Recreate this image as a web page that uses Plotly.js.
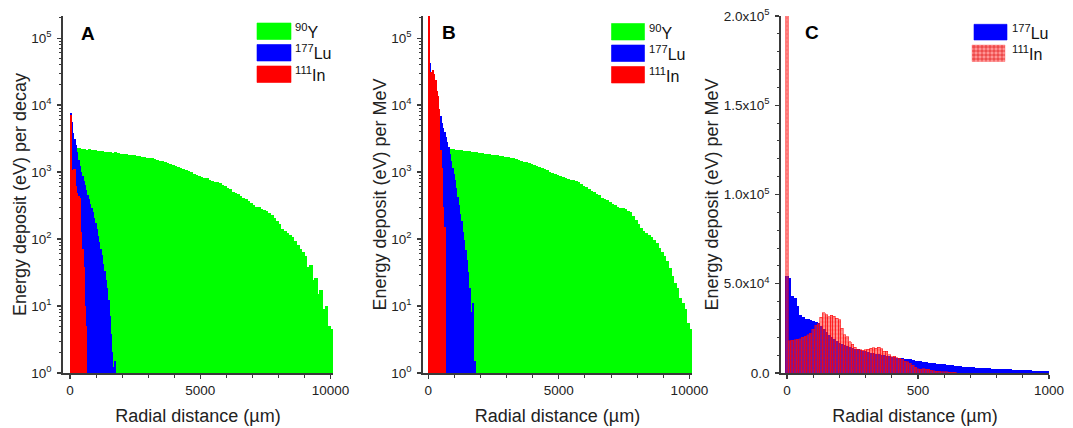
<!DOCTYPE html>
<html><head><meta charset="utf-8">
<script src="https://cdn.plot.ly/plotly-3.0.1.min.js"></script>
<style>html,body{margin:0;padding:0;background:#fff}#chart{width:1073px;height:428px}
#chart .bars path{shape-rendering:crispEdges}</style>
</head><body><div id="chart"></div>
<script>
// ---------- DATA ----------
// Panels A/B: 90Y in 100-µm bins (centres 50..10050); 177Lu and 111In in 50-µm bins (centres 25, 75, ...)
const greenA = [2200,2250,2150,2230,2180,2140,2120,2160,2090,2080,
 2050,2010,2030,1980,1950,1970,1900,1930,1870,1850,
 1840,1800,1790,1750,1740,1720,1700,1650,1640,1620,
 1600,1570,1520,1500,1450,1420,1380,1340,1300,1260,
 1220,1170,1130,1090,1050,1010,970,930,890,860,
 840,810,790,760,730,700,690,670,640,600,
 575,540,500,485,460,430,400,385,360,340,
 320,300,295,280,270,255,240,225,200,185,
 165,140,128,120,112,105,92,80,70,62,
 55,38,40,24,26,15,17,9,10,5,4.5];
const blueA = [7600,5500,3800,3100,2500,1950,1500,1200,1000,850,
 730,620,530,450,390,330,290,250,205,170,
 138,110,88,70,56,42,33,24,18,12,
 7,3.8,2,1.2,1.5];
const redA = [7000,750,1050,1100,600,480,430,400,125,70,38,10,5];

const greenB = [2300,2280,2250,2300,2240,2200,2180,2210,2150,2160,
 2120,2080,2100,2050,2020,2000,1980,1990,1940,1900,
 1880,1850,1830,1800,1790,1760,1740,1700,1690,1670,
 1640,1610,1570,1530,1490,1450,1410,1370,1330,1290,
 1250,1210,1170,1120,1080,1040,1000,960,920,880,
 850,830,800,780,760,740,720,690,650,610,
 580,550,520,500,470,440,410,395,370,350,
 330,315,300,290,285,275,260,245,215,190,
 165,145,130,122,112,105,95,85,72,63,
 54,46,36,28,22,18,13,11,9,5.5,4.4];
const blueB = [45000,42000,25000,19000,15500,12500,10500,9000,7800,6700,
 5400,4500,3900,3300,2800,2300,1800,1450,1150,930,
 740,560,420,320,230,180,125,95,68,48,
 32,18,8,3.5,11,1.5];
const redB = [250000,22000,31000,33000,29000,23000,16000,13500,8500,2100,1150,300,150];

// Panel C: 10-µm bins, centres 0, 10, 20, ...
const blueC = [54000,53000,43000,41500,37000,32000,31000,30200,30000,29300,
 28600,28200,27500,26300,24500,22500,21000,19800,18500,17500,
 16700,16000,15400,14800,14300,13800,13300,12900,12500,12200,
 11900,11500,11100,10800,10500,10200,9900,9600,9400,9100,
 8800,8600,8400,8200,8000,7800,7500,7300,7000,6700,
 6500,6200,6000,5800,5600,5400,5200,5000,4800,4650,
 4500,4300,4150,4000,3800,3650,3500,3350,3200,3100,
 3000,2900,2800,2700,2600,2500,2400,2300,2200,2100,
 2000,1950,1900,1800,1750,1700,1600,1500,1450,1400,
 1300,1250,1200,1150,1100,1050,1000,950,900,800,750];
const redC = [210000,18000,18300,18500,18900,19300,19900,20600,21400,22400,
 24500,26800,27600,31200,33800,32600,31500,32300,31800,30600,
 29700,25000,21300,20300,17500,16200,14400,13300,12900,12800,
 13100,13400,14000,14200,14000,14300,13600,12300,12100,10100,
 9000,9500,8500,8200,7800,6500,6300,5500,4400,3300,
 2400,2200,2300,2000,2100,1500,1200,1000,900,800,
 700,600,500,400,300];

const logTickVals = [1,10,100,1000,10000,100000];
const logTickText = ['10<sup>0</sup>','10<sup>1</sup>','10<sup>2</sup>','10<sup>3</sup>','10<sup>4</sup>','10<sup>5</sup>'];
const linTickValsC = [0,50000,100000,150000,200000];
const linTickTextC = ['0.0','5.0x10<sup>4</sup>','1.0x10<sup>5</sup>','1.5x10<sup>5</sup>','2.0x10<sup>5</sup>'];
const xTickValsAB = [0,5000,10000];
const xTickTextAB = ['0','5000','10000'];
const xTickValsC = [0,500,1000];
const xTickTextC = ['0','500','1000'];
const labelsAB = ['<sup>90</sup>Y','<sup>177</sup>Lu','<sup>111</sup>In'];
const labelsC = ['<sup>177</sup>Lu','<sup>111</sup>In'];

// ---------- HELPERS ----------
const centres = (arr, start, w) => arr.map((_, i) => start + w * i);
const GREEN = 'rgb(0,255,0)', BLUE = 'rgb(0,0,255)', RED = 'rgb(255,0,0)';
const F = 'Arial, "Liberation Sans", sans-serif';
const W = 1073, H = 428;
const px = v => v / W, py = v => 1 - v / H;

function solidBar(y, start, w, color, xa, ya) {
  return {type:'bar', x: centres(y, start, w), y: y, width: w, xaxis: xa, yaxis: ya,
    marker:{color: color, line:{width:1, color: color}}, hoverinfo:'skip'};
}

const traces = [
  solidBar(greenA, 50, 100, GREEN, 'x', 'y'),
  solidBar(blueA, 25, 50, BLUE, 'x', 'y'),
  solidBar(redA, 25, 50, RED, 'x', 'y'),
  solidBar(greenB, 50, 100, GREEN, 'x2', 'y2'),
  solidBar(blueB, 25, 50, BLUE, 'x2', 'y2'),
  solidBar(redB, 25, 50, RED, 'x2', 'y2'),
  solidBar(blueC, 0, 10, BLUE, 'x3', 'y3'),
  {type:'bar', x: centres(redC, 0, 10), y: redC, width: 10, xaxis:'x3', yaxis:'y3', hoverinfo:'skip',
    marker:{color:'rgba(255,40,40,0.5)', line:{width:0.6, color:'rgba(255,0,0,0.85)'},
      pattern:{shape:'+', fgcolor:'rgba(255,0,0,0.9)', size:4, solidity:0.25, fillmode:'overlay'}}}
];

const minorLog = [];
for (let d = 0; d < 6; d++) for (let m = 2; m <= 9; m++) minorLog.push(m * Math.pow(10, d));

const axisBase = () => ({showline:true, linecolor:'#3a3a3a', linewidth:1.8, mirror:false,
  ticks:'outside', ticklen:4, tickwidth:1.2, tickcolor:'#3a3a3a', showgrid:false, zeroline:false,
  tickfont:{family:F, size:13.5, color:'#222'}, fixedrange:true});

function xAxis(domain, range, tickvals, ticktext, minorDtick, anchor) {
  return Object.assign(axisBase(), {domain: domain, range: range, anchor: anchor,
    tickmode:'array', tickvals: tickvals, ticktext: ticktext,
    minor:{ticks:'outside', ticklen:3, tickwidth:1, tickcolor:'#3a3a3a', dtick: minorDtick, tick0: 0},
    title:{text:'Radial distance (\u00b5m)', font:{family:F, size:18, color:'#222'}, standoff: 12}});
}
function yLog(domain, anchor, title) {
  return Object.assign(axisBase(), {domain: domain, anchor: anchor, type:'log', range:[0, 5.33],
    tickmode:'array', tickvals: logTickVals, ticktext: logTickText, ticklabelstandoff: 3,
    minor:{ticks:'outside', ticklen:2.5, tickwidth:1, tickcolor:'#3a3a3a', tickmode:'array', tickvals: minorLog},
    title:{text: title, font:{family:F, size:18, color:'#222'}, standoff: 0}});
}

const yDom = [py(373), py(16)];

// legend swatches & labels
const shapes = [], annotations = [];
function swatch(x0, y0, x1, y1, color) {
  shapes.push({type:'rect', xref:'paper', yref:'paper', x0: px(x0), x1: px(x1), y0: py(y1), y1: py(y0),
    fillcolor: color, line:{width:0.6, color: color}});
}
function label(x, yc, text) {
  annotations.push({xref:'paper', yref:'paper', x: px(x), y: py(yc), xanchor:'left', yanchor:'middle',
    text: text, showarrow:false, font:{family:F, size:16, color:'#111'}});
}
function letter(x, y, t) {
  annotations.push({xref:'paper', yref:'paper', x: px(x), y: py(y), xanchor:'left', yanchor:'middle',
    text:'<b>' + t + '</b>', showarrow:false, font:{family:F, size:19, color:'#000'}});
}
// Panel A legend
[GREEN, BLUE, RED].forEach((c, i) => { const y0 = 23 + i * 21.5; swatch(257, y0, 291, y0 + 16.5, c); label(293, y0 + 8, labelsAB[i]); });
// Panel B legend
[GREEN, BLUE, RED].forEach((c, i) => { const y0 = 23.5 + i * 21.5; swatch(611.5, y0, 644.5, y0 + 16.5, c); label(646.5, y0 + 8, labelsAB[i]); });
// Panel C legend
swatch(974, 24.3, 1007, 40, BLUE); label(1010, 32, labelsC[0]);
swatch(972, 45, 1005, 61.5, 'rgba(255,60,60,0.55)');
for (let xx = 974; xx < 1005; xx += 4) shapes.push({type:'line', xref:'paper', yref:'paper', x0:px(xx), x1:px(xx), y0:py(45), y1:py(61.5), line:{width:0.7, color:'rgba(220,0,0,0.8)'}});
for (let yy = 47; yy < 61.5; yy += 4) shapes.push({type:'line', xref:'paper', yref:'paper', x0:px(972), x1:px(1005), y0:py(yy), y1:py(yy), line:{width:0.7, color:'rgba(220,0,0,0.8)'}});
label(1010, 53, labelsC[1]);

letter(79, 33, 'A'); letter(440, 32.5, 'B'); letter(803, 32.5, 'C');

const layout = {
  width: W, height: H, margin:{l:0, r:0, t:0, b:0}, paper_bgcolor:'#fff', plot_bgcolor:'#fff',
  barmode:'overlay', bargap:0, showlegend:false, font:{family:F},
  xaxis: xAxis([px(63), px(333)], [-270, 10100], xTickValsAB, xTickTextAB, 1000, 'y'),
  yaxis: yLog(yDom, 'x', 'Energy deposit (eV) per decay'),
  xaxis2: xAxis([px(423), px(692)], [-200, 10100], xTickValsAB, xTickTextAB, 1000, 'y2'),
  yaxis2: yLog(yDom, 'x2', 'Energy deposit (eV) per MeV'),
  xaxis3: xAxis([px(781), px(1049)], [-23, 1000], xTickValsC, xTickTextC, 100, 'y3'),
  yaxis3: Object.assign(axisBase(), {domain: yDom, anchor:'x3', range:[0, 200000],
    tickmode:'array', tickvals: linTickValsC, ticktext: linTickTextC, ticklabelstandoff: 3,
    minor:{ticks:'outside', ticklen:2.5, tickwidth:1, tickcolor:'#3a3a3a', dtick:10000, tick0:0},
    title:{text:'Energy deposit (eV) per MeV', font:{family:F, size:18, color:'#222'}, standoff: 0}}),
  shapes: shapes, annotations: annotations
};

Plotly.newPlot('chart', traces, layout, {staticPlot:true, displayModeBar:false});
</script></body></html>
